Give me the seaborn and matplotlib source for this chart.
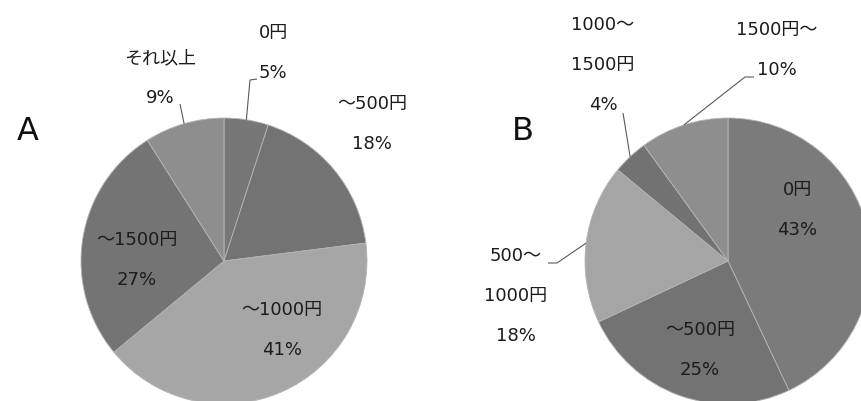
import numpy as np
import matplotlib
matplotlib.use("Agg")
import matplotlib.pyplot as plt
import seaborn as sns

# Survey answers: monthly spending, two groups (percent)
labels_a = ["0円", "～500円", "～1000円", "～1500円", "それ以上"]
values_a = [5, 18, 41, 27, 9]
colors_a = ["#777777", "#737373", "#a6a6a6", "#747474", "#8e8e8e"]

labels_b = ["0円", "～500円", "500～\n1000円", "1000～\n1500円", "1500円～"]
values_b = [43, 25, 18, 4, 10]
colors_b = ["#7b7b7b", "#737373", "#a5a5a5", "#727272", "#8e8e8e"]

sns.set_theme(style="white")
# Latin digits from DejaVu, Japanese glyphs fall through to Noto CJK
plt.rcParams["font.family"] = ["DejaVu Sans", "Noto Sans CJK JP"]

W, H = 861, 401
fig = plt.figure(figsize=(W / 100, H / 100), dpi=100)
ax = fig.add_axes([0, 0, 1, 1])

R = 143
TXT = "#1c1c1c"
LINE_PITCH = 40  # vertical distance between label lines, px


def py(y):
    """Convert a top-origin pixel row into axes data y."""
    return H - y


def draw_pie(values, colors, cx, cy):
    wedges, _ = ax.pie(
        values, colors=colors, startangle=90, counterclock=False,
        center=(cx, py(cy)), radius=R,
        wedgeprops=dict(edgecolor="#b5b5b5", linewidth=0.6),
    )
    return wedges


def mid_point(wedge, cx, cy, r=R):
    ang = np.deg2rad((wedge.theta1 + wedge.theta2) / 2)
    return cx + r * np.cos(ang), py(cy) + r * np.sin(ang)


def put_label(name, value, x, y_first):
    lines = name.split("\n") + [f"{value}%"]
    for i, s in enumerate(lines):
        ax.text(x, py(y_first + i * LINE_PITCH), s, ha="center", va="center",
                fontsize=13, color=TXT)


def leader(wedge, cx, cy, pts):
    x0, y0 = mid_point(wedge, cx, cy)
    xs = [x0] + [p[0] for p in pts]
    ys = [y0] + [py(p[1]) for p in pts]
    ax.plot(xs, ys, color="#5a5a5a", lw=0.8, solid_capstyle="butt")


# ---- Pie A ----
cxa, cya = 224, 261
wa = draw_pie(values_a, colors_a, cxa, cya)

# ---- Pie B ----
cxb, cyb = 728, 261
wb = draw_pie(values_b, colors_b, cxb, cyb)

# pie() resets the limits, so fix the pixel frame afterwards
ax.set_xlim(0, W)
ax.set_ylim(0, H)
ax.set_aspect("equal")
ax.axis("off")

label_pos_a = [(273, 33), (372, 104), (282, 310), (137, 240), (160, 58)]
for name, v, (x, y) in zip(labels_a, values_a, label_pos_a):
    put_label(name, v, x, y)
leader(wa[0], cxa, cya, [(250, 80), (257, 79)])
leader(wa[4], cxa, cya, [(180, 104)])
ax.text(28, py(131), "A", ha="center", va="center", fontsize=23,
        color="#111111")

label_pos_b = [(797, 190), (700, 330), (516, 256), (603, 25), (777, 30)]
for name, v, (x, y) in zip(labels_b, values_b, label_pos_b):
    put_label(name, v, x, y)
leader(wb[3], cxb, cyb, [(623, 113)])
leader(wb[4], cxb, cyb, [(745, 77), (754, 77)])
leader(wb[2], cxb, cyb, [(557, 263), (548, 263)])
ax.text(523, py(131), "B", ha="center", va="center", fontsize=23,
        color="#111111")

fig.savefig("out.png", dpi=100, facecolor="white")
